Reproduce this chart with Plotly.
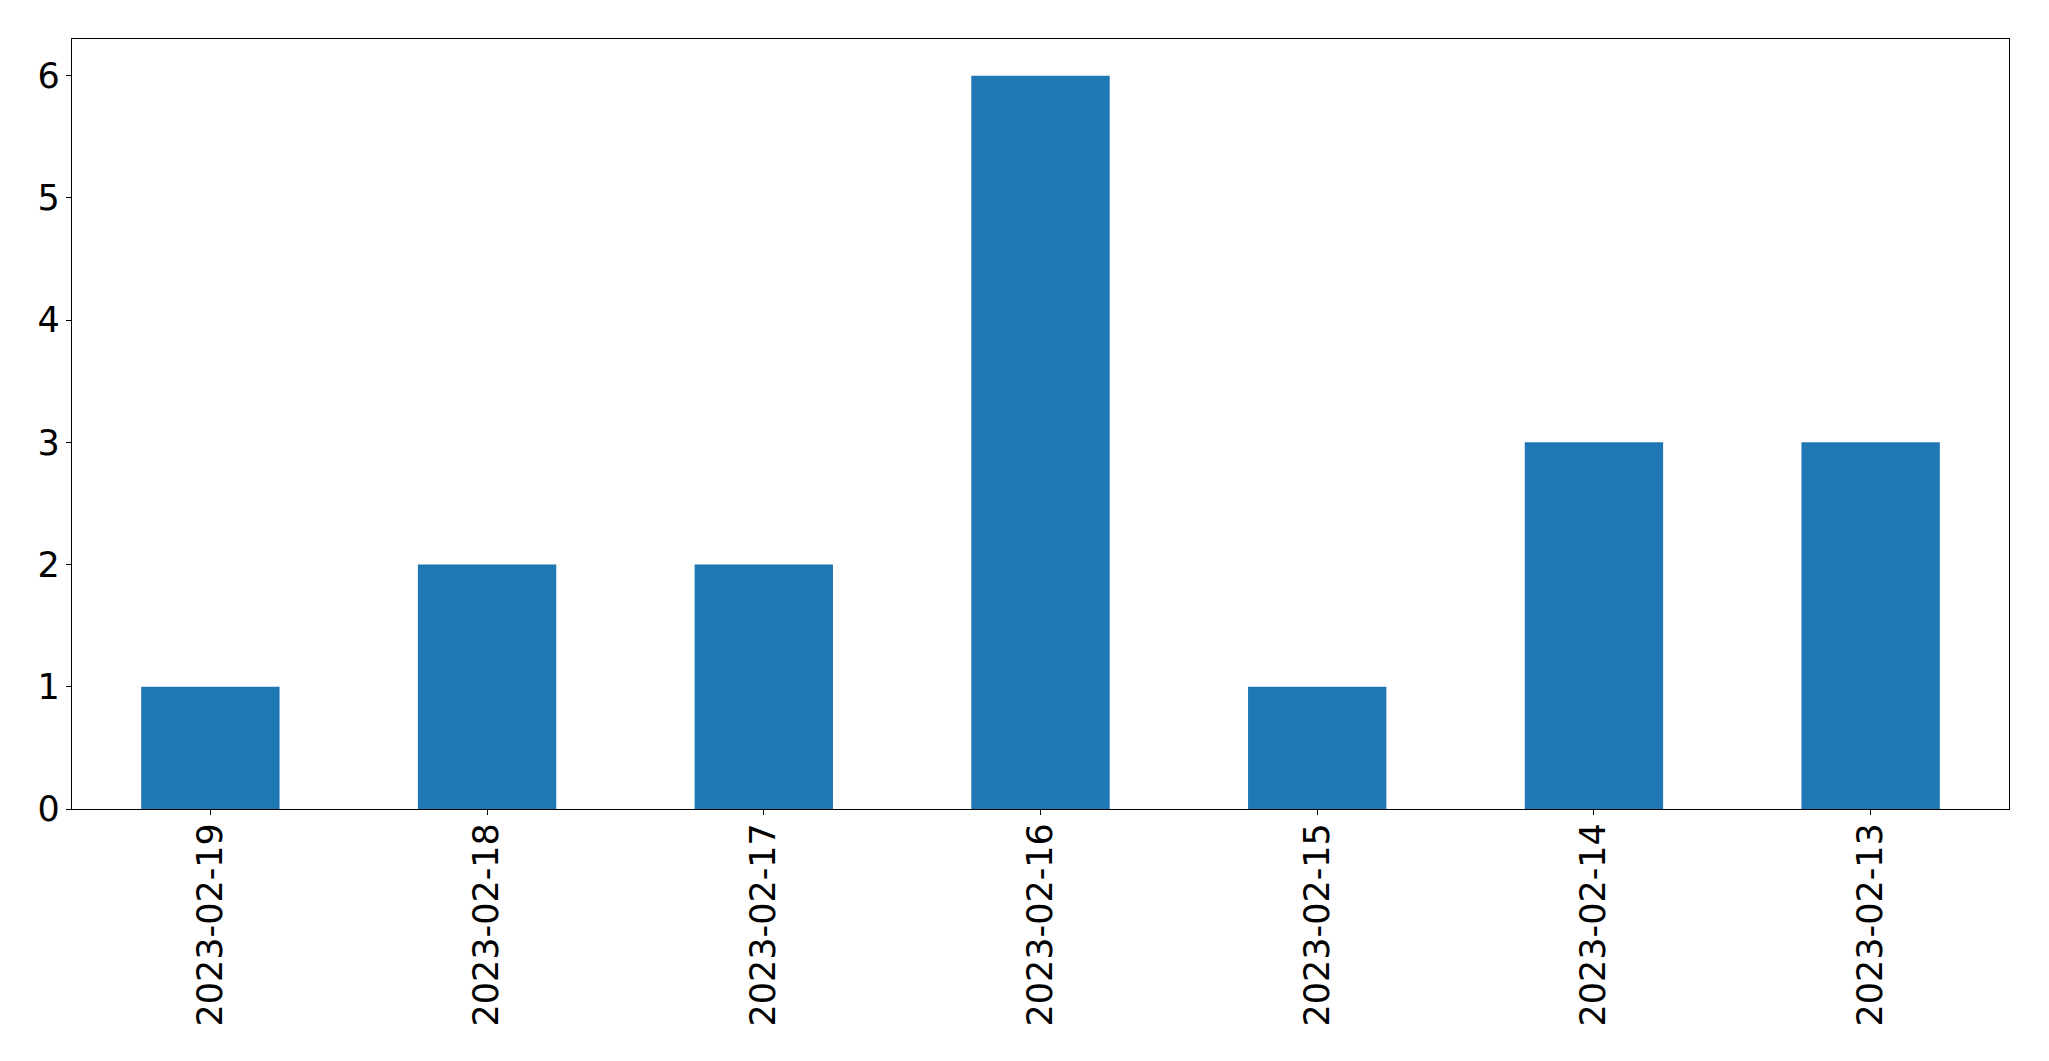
import plotly.graph_objects as go

dates = ["2023-02-19", "2023-02-18", "2023-02-17", "2023-02-16",
         "2023-02-15", "2023-02-14", "2023-02-13"]
counts = [1, 2, 2, 6, 1, 3, 3]
y_ticks = [0, 1, 2, 3, 4, 5, 6]

fig = go.Figure(go.Bar(x=dates, y=counts, width=0.5, marker_color="#1f77b4",
                       marker_line_width=0))

axis_common = dict(showline=True, linecolor="black", linewidth=1.3, mirror=True,
                   ticks="outside", ticklen=5, tickwidth=1.3, tickcolor="black",
                   showgrid=False, zeroline=False, automargin=False,
                   tickfont=dict(family="DejaVu Sans", size=35, color="black"))

fig.update_layout(
    width=2033, height=1045,
    margin=dict(l=64, r=32, t=31, b=244),
    plot_bgcolor="white", paper_bgcolor="white",
    showlegend=False,
    xaxis=dict(type="category", range=[-0.5, 6.5], tickangle=-90,
               ticklabelstandoff=-6, **axis_common),
    yaxis=dict(range=[0, 6.3], tickvals=y_ticks, ticklabelstandoff=-1,
               **axis_common),
)

fig.write_html("out.html")
